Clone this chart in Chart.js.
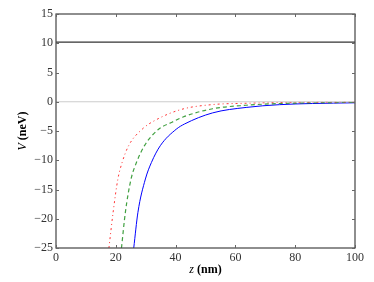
<!DOCTYPE html>
<html><head><meta charset="utf-8">
<script src="https://cdn.jsdelivr.net/npm/chart.js@4"></script>
<style>html,body{margin:0;padding:0;background:#fff}#w{width:374px;height:282px;position:relative}</style>
</head><body><div id="w"><canvas id="c"></canvas></div>
<script>
const xTicks=[0,20,40,60,80,100];
const yTicks=[-25,-20,-15,-10,-5,0,5,10,15];
const barrierV=10.2;
const zeroV=0;
const redZ=[17.7,19.1,20.7,22.1,24.3,28.8,33.8,42,52,64,75,86,100];
const redV=[-25,-18.9,-13.2,-10.4,-7.5,-4.7,-3.0,-1.3,-0.5,-0.25,-0.13,-0.08,-0.05];
const greenZ=[21.9,23.2,25.1,26.9,29.6,34.3,38.8,42.5,52.4,63.6,74.7,86,100];
const greenV=[-25,-18.9,-13.2,-10.4,-7.5,-4.7,-3.5,-2.6,-1.2,-0.6,-0.3,-0.18,-0.1];
const blueZ=[26,27.4,29.9,31.9,34.9,40.2,43,52.4,63.6,74.7,85.8,100];
const blueV=[-25,-18.9,-13.2,-10.4,-7.5,-4.7,-3.8,-1.9,-0.97,-0.5,-0.3,-0.18];

const pts=(xs,ys)=>xs.map((x,i)=>({x:x,y:ys[i]}));
const FONT='"Liberation Serif", "DejaVu Serif", serif';
const fmt=v=>(v<0?'\u2212'+Math.abs(v):String(v));

const framePlugin={
  id:'frame',
  afterDraw(chart){
    const ctx=chart.ctx, a=chart.chartArea, xs=chart.scales.x, ys=chart.scales.y;
    ctx.save();
    ctx.strokeStyle='#444'; ctx.lineWidth=1.2;
    ctx.strokeRect(a.left,a.top,a.right-a.left,a.bottom-a.top);
    ctx.strokeStyle='#666'; ctx.lineWidth=1;
    const tl=3;
    xTicks.forEach(v=>{const px=Math.round(xs.getPixelForValue(v))+0.5;
      ctx.beginPath();ctx.moveTo(px,a.bottom);ctx.lineTo(px,a.bottom-tl);
      ctx.moveTo(px,a.top);ctx.lineTo(px,a.top+tl);ctx.stroke();});
    yTicks.forEach(v=>{const py=Math.round(ys.getPixelForValue(v))+0.5;
      ctx.beginPath();ctx.moveTo(a.left,py);ctx.lineTo(a.left+tl,py);
      ctx.moveTo(a.right,py);ctx.lineTo(a.right-tl,py);ctx.stroke();});
    // axis titles
    ctx.fillStyle='#000'; ctx.textBaseline='middle';
    const drawMixed=(parts,cx,cy)=>{
      let w=0; parts.forEach(p=>{ctx.font=p[1]+' 12px '+FONT; w+=ctx.measureText(p[0]).width;});
      let x=cx-w/2;
      parts.forEach(p=>{ctx.font=p[1]+' 12px '+FONT; ctx.textAlign='left'; ctx.fillText(p[0],x,cy); x+=ctx.measureText(p[0]).width;});
    };
    drawMixed([['z','italic'],[' ','normal'],['(nm)','bold']],(a.left+a.right)/2,270);
    ctx.save(); ctx.translate(23,(a.top+a.bottom)/2); ctx.rotate(-Math.PI/2);
    drawMixed([['V','italic'],[' ','normal'],['(neV)','bold']],0,0);
    ctx.restore();
    ctx.restore();
  }
};

new Chart(document.getElementById('c'),{
  type:'line',
  data:{datasets:[
    {data:[{x:0,y:zeroV},{x:100,y:zeroV}],borderColor:'#cccccc',borderWidth:1,pointRadius:0},
    {data:[{x:0,y:barrierV},{x:100,y:barrierV}],borderColor:'#333333',borderWidth:1.3,pointRadius:0},
    {data:pts(redZ,redV),borderColor:'rgba(255,0,0,0.8)',borderWidth:1,borderDash:[2,3,1,3],pointRadius:0,cubicInterpolationMode:'monotone'},
    {data:pts(greenZ,greenV),borderColor:'rgba(0,128,0,0.75)',borderWidth:1.2,borderDash:[4,3],pointRadius:0,cubicInterpolationMode:'monotone'},
    {data:pts(blueZ,blueV),borderColor:'#0000ff',borderWidth:1,pointRadius:0,cubicInterpolationMode:'monotone'}
  ]},
  options:{
    responsive:true,maintainAspectRatio:false,animation:false,
    layout:{padding:{left:0,right:19,top:14,bottom:0}},
    plugins:{legend:{display:false},tooltip:{enabled:false}},
    scales:{
      x:{type:'linear',min:0,max:100,
        afterBuildTicks:s=>{s.ticks=xTicks.map(v=>({value:v}));},
        afterFit:s=>{s.height=34;},
        grid:{display:false,drawTicks:false},border:{display:false},
        ticks:{color:'#333',padding:3,maxRotation:0,font:{family:FONT,size:12},callback:v=>fmt(v)}},
      y:{type:'linear',min:-25,max:15,
        afterBuildTicks:s=>{s.ticks=yTicks.map(v=>({value:v}));},
        afterFit:s=>{s.width=56;},
        grid:{display:false,drawTicks:false},border:{display:false},
        ticks:{color:'#333',padding:3,font:{family:FONT,size:12},callback:v=>fmt(v)}}
    }
  },
  plugins:[framePlugin]
});
</script></body></html>
